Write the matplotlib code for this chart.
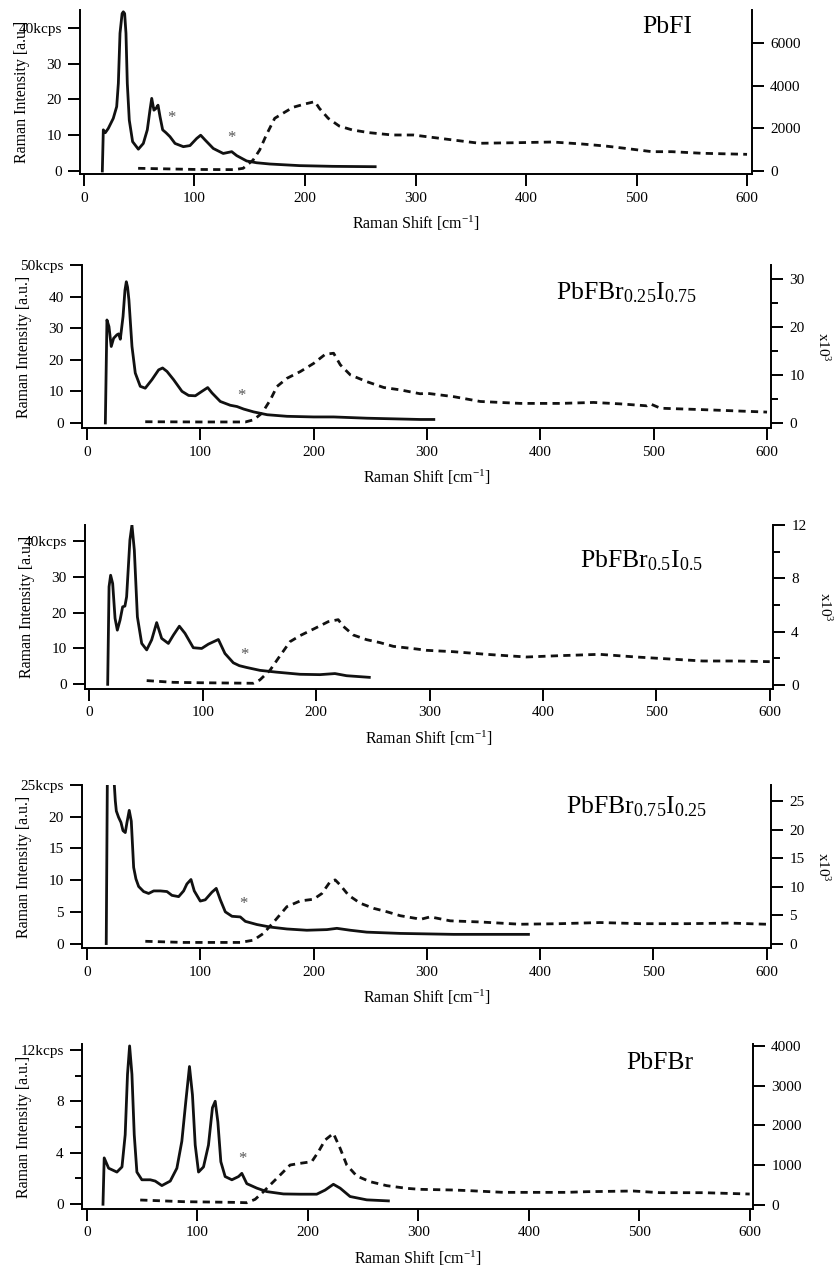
# Raman spectra of PbFBr(x)I(1-x): low-frequency spectrum (solid, left axis)
# and extended-range spectrum (dashed, right axis), five stacked panels
import matplotlib
matplotlib.use('Agg')
import matplotlib.pyplot as plt

plt.rcParams['font.family'] = 'Liberation Serif'
plt.rcParams['mathtext.fontset'] = 'custom'
plt.rcParams['mathtext.rm'] = 'Liberation Serif'
plt.rcParams['mathtext.it'] = 'Liberation Serif:italic'
plt.rcParams['mathtext.default'] = 'regular'

# ----------------------------------------------------------
# data
# ----------------------------------------------------------
names = ['PbFI', 'PbFBr$_{0.25}$I$_{0.75}$', 'PbFBr$_{0.5}$I$_{0.5}$',
         'PbFBr$_{0.75}$I$_{0.25}$', 'PbFBr']

# PbFI
p1_low_x = [16.6, 17.5, 19.3, 22, 26.5, 29.6, 31.1, 32.6, 34.5, 35.6, 36.8, 38, 39.2, 41, 44,
            49.2, 53.7, 57.3, 59.7, 61.3, 63.3, 65.2, 67, 68.8, 71.2, 74.2, 77.8, 82.4, 89.9,
            95.9, 102, 105.6, 109.5, 117, 126, 133.7, 138.2, 147.2, 156.3, 168.3, 195, 225, 263.5]
p1_low_y = [0, 11.5, 10.7, 11.9, 14.7, 18, 24.5, 38.5, 44, 44.5, 44, 38.5, 24.5, 14.2, 8.2,
            6.1, 7.7, 11.5, 17, 20.3, 17, 17.5, 18.4, 15.2, 11.5, 10.7, 9.6, 7.7, 6.8,
            7.1, 9.1, 10, 8.7, 6.3, 4.9, 5.4, 4.3, 2.8, 2.3, 1.95, 1.5, 1.3, 1.2]
p1_high_x = [49, 100, 136, 144, 153, 159, 165, 172.6, 180, 189, 200, 209, 213, 221, 231, 243,
             258, 279, 298, 334, 358, 394, 424, 451, 472, 490, 514, 532, 559, 600]
p1_high_y = [113, 60, 50, 113, 500, 975, 1680, 2465, 2700, 2980, 3140, 3250, 2935, 2465, 2100, 1915,
             1790, 1680, 1680, 1445, 1290, 1320, 1350, 1255, 1160, 1050, 895, 895, 820, 770]
p1_star_x = [79.4, 133.7]
p1_star_y = [14.7, 9.1]

# PbFBr0.25I0.75
p2_low_x = [16.2, 17.6, 19.4, 21.4, 23.5, 26.4, 27.9, 29.4, 31.8, 33.5, 34.7, 35.8, 37.0, 39.7,
            42.6, 47.0, 51.4, 57.3, 63.2, 66.7, 70.6, 76.4, 83.8, 89.7, 95.6, 101.4, 106.5,
            110.3, 117.6, 126.4, 132.3, 138.2, 147, 159, 176.5, 200, 217.6, 247, 294, 306]
p2_low_y = [0, 32.6, 30.5, 24.2, 26.8, 27.9, 28.2, 26.5, 33.7, 42, 44.7, 43, 38.9, 24.2,
            15.8, 11.6, 11.0, 13.7, 16.8, 17.4, 16.3, 13.7, 10.0, 8.7, 8.6, 10.0, 11.2,
            9.5, 6.8, 5.6, 5.2, 4.4, 3.5, 2.6, 2.1, 1.9, 1.9, 1.5, 1.1, 1.1]
p2_high_x = [51.4, 99.9, 139.7, 147, 154.4, 161.7, 167.6, 176.4, 188.2, 200, 210.3, 217.6, 223.5,
             232.4, 247, 261.8, 276.5, 294, 300, 323.5, 347, 382.4, 417.7, 447, 470.6, 494, 497,
             506, 544, 600]
p2_high_y = [0.3, 0.25, 0.25, 0.7, 2.07, 4.8, 7.6, 9.3, 10.7, 12.4, 14.3, 14.5, 12.1,
             10.0, 8.6, 7.4, 6.9, 6.1, 6.2, 5.5, 4.5, 4.1, 4.1, 4.3, 4.0, 3.6, 4.0,
             3.1, 2.8, 2.3]
p2_star_x = [136]
p2_star_y = [8.4]

# PbFBr0.5I0.5
p3_low_x = [16.2, 17.4, 18.8, 20.6, 22.7, 24.7, 27.1, 29.4, 31.4, 32.9, 35.8, 37.6, 39.7, 42.4,
            46.2, 50.6, 55, 59.4, 63.8, 69.7, 74.1, 79.4, 84.4, 91.7, 99.1, 105, 113.8, 119.6,
            127, 132.3, 138.7, 150.4, 165, 185.8, 203.3, 216.6, 226.9, 246.9]
p3_low_y = [0, 27.2, 30.4, 28.1, 18.4, 15.1, 17.9, 21.6, 21.8, 24.4, 40.2, 44.4, 37.4, 18.8,
            11.4, 9.6, 12.4, 17.2, 12.8, 11.4, 13.7, 16.2, 14.2, 10.2, 10.0, 11.2, 12.5, 8.6,
            6.0, 5.2, 4.7, 3.9, 3.4, 2.8, 2.7, 3.0, 2.4, 1.95]
p3_high_x = [50.6, 74.1, 97.6, 144.6, 150.4, 159.3, 166.6, 177, 185.8, 199, 210.7, 219.5, 224,
             232.8, 244.5, 256.3, 268, 288.6, 297.4, 320.8, 350.2, 385.4, 414.8, 450, 482.3,
             511.7, 541, 570.5, 600]
p3_high_y = [0.33, 0.2, 0.17, 0.13, 0.38, 1.1, 2.0, 3.25, 3.7, 4.25, 4.75, 4.9, 4.4,
             3.75, 3.4, 3.18, 2.9, 2.7, 2.6, 2.5, 2.3, 2.1, 2.2, 2.3, 2.1,
             1.95, 1.8, 1.8, 1.75]
p3_star_x = [136.6]
p3_star_y = [8.2]

# PbFBr0.75I0.25
p4_low_x = [17.0, 18.2, 19.5, 21.5, 24.1, 25, 25.9, 27.9, 30, 31.8, 33.8, 35.3, 37.3, 39.1, 41.2,
            43.2, 45.6, 50, 54.4, 58.9, 64.8, 70.6, 75, 80.9, 85.3, 88.2, 91.8, 94.7, 100,
            104.4, 110.3, 114.1, 117.7, 122.1, 128, 135.3, 139.8, 150, 161.8, 176.5, 194.1,
            211.8, 220.6, 232.4, 247, 276.5, 323.5, 389.7]
p4_low_y = [0, 32, 42, 38, 25.1, 22.5, 20.9, 19.9, 19.1, 17.8, 17.5, 19.1, 21.0, 19.3, 12.0,
            10.2, 9.0, 8.2, 7.9, 8.3, 8.3, 8.2, 7.6, 7.4, 8.3, 9.4, 10.1, 8.3, 6.7,
            6.9, 8.1, 8.7, 6.9, 5.0, 4.3, 4.2, 3.5, 3.0, 2.6, 2.3, 2.1,
            2.2, 2.4, 2.1, 1.8, 1.6, 1.45, 1.45]
p4_high_x = [51.5, 85.3, 135.3, 147, 155.9, 166.2, 176.5, 188.2, 200, 207.3, 214.7, 219.1, 223.5,
             230.9, 241.2, 253, 264.7, 276.5, 291.2, 294.2, 303, 320.6, 347, 382.4, 417.7, 453,
             488.3, 529.5, 567.8, 600]
p4_high_y = [0.4, 0.2, 0.2, 0.6, 1.8, 4.1, 6.5, 7.5, 7.8, 8.8, 10.9, 11.2, 10.3,
             8.5, 7.1, 6.2, 5.6, 4.9, 4.4, 4.25, 4.7, 4.0, 3.8, 3.4, 3.5, 3.7,
             3.5, 3.5, 3.6, 3.4]
p4_star_x = [138.3]
p4_star_y = [6.2]

# PbFBr
p5_low_x = [14.5, 15.6, 19.6, 27.1, 31.7, 34.6, 36.7, 38.6, 40.7, 42.8, 45.2, 49.7, 57.3, 61.8,
            67.8, 75.4, 81.4, 85.9, 89.5, 92.8, 95.5, 98, 101, 105.5, 110, 113.6, 116.1, 118.5,
            121.2, 125.1, 131.2, 137.2, 140.2, 144.7, 153.8, 162.9, 177.9, 193, 208, 215.6,
            223.1, 229.2, 238.2, 253.3, 272.9]
p5_low_y = [0, 3.6, 2.8, 2.5, 2.9, 5.4, 10.1, 12.3, 10.1, 5.4, 2.5, 1.9, 1.9, 1.8,
            1.45, 1.8, 2.8, 4.9, 8.0, 10.7, 8.5, 4.6, 2.5, 2.9, 4.6, 7.5, 8.0, 6.4,
            3.3, 2.15, 1.9, 2.15, 2.4, 1.6, 1.25, 0.98, 0.8, 0.78, 0.78, 1.1,
            1.55, 1.25, 0.6, 0.34, 0.26]
p5_high_x = [48.2, 87.4, 132.6, 144.7, 152.2, 159.8, 165.8, 174.9, 183.9, 193, 203.5, 209.6, 215.6,
             223.1, 229.2, 235.2, 244.2, 256.3, 271.4, 289.5, 301.5, 331.7, 346.8, 377, 407,
             434.3, 452.4, 494.6, 518.7, 558, 600]
p5_high_y = [126, 84, 67, 58, 142, 335, 503, 754, 1005, 1047, 1089, 1340, 1633,
             1800, 1424, 1005, 729, 586, 486, 419, 394, 377, 360, 318, 318,
             318, 335, 352, 310, 310, 276]
p5_star_x = [141.1]
p5_star_y = [3.5]

low_x = [p1_low_x, p2_low_x, p3_low_x, p4_low_x, p5_low_x]
low_y = [p1_low_y, p2_low_y, p3_low_y, p4_low_y, p5_low_y]
high_x = [p1_high_x, p2_high_x, p3_high_x, p4_high_x, p5_high_x]
high_y = [p1_high_y, p2_high_y, p3_high_y, p4_high_y, p5_high_y]
star_x = [p1_star_x, p2_star_x, p3_star_x, p4_star_x, p5_star_x]
star_y = [p1_star_y, p2_star_y, p3_star_y, p4_star_y, p5_star_y]

# left axis ticks (top one carries the kcps unit) and right axis ticks
left_major = [[0, 10, 20, 30, 40], [0, 10, 20, 30, 40, 50], [0, 10, 20, 30, 40],
              [0, 5, 10, 15, 20, 25], [0, 4, 8, 12]]
left_minor = [[], [], [], [], [2, 6, 10]]
right_major = [[0, 2000, 4000, 6000], [0, 10, 20, 30], [0, 4, 8, 12],
               [0, 5, 10, 15, 20, 25], [0, 1000, 2000, 3000, 4000]]
right_minor = [[], [5, 15, 25], [2, 6, 10], [], []]
right_unit = ['', 'x10$^{3}$', 'x10$^{3}$', 'x10$^{3}$', '']
x_ticks = [0, 100, 200, 300, 400, 500, 600]

# ----------------------------------------------------------
# layout (pixels: left, right, top, bottom of each frame)
# ----------------------------------------------------------
W, H = 840, 1273
frames = [(80, 752, 10, 174), (82, 771, 265, 428), (85, 773, 525, 689),
          (82, 771, 785, 948), (82, 753, 1044, 1209)]
xlims = [(-3.6, 604.5), (-4.4, 603.5), (-3.8, 602.9), (-4.4, 603.8), (-4.5, 603)]
ylims_l = [(-0.84, 45), (-1.6, 50), (-1.3, 44.4), (-0.7, 25), (-0.37, 12.45)]
ylims_r = [(-155, 7560), (-1.0, 32.8), (-0.3, 12.0), (-0.78, 27.9), (-100, 4045)]
title_pos = [(692, 33), (697, 299), (703, 567), (707, 813), (693, 1069)]

fig = plt.figure(figsize=(W / 100, H / 100), dpi=100)
lw_ax = 1.4
tick_kw = dict(direction='out', length=8.6, width=lw_ax, pad=4.5, labelsize=11)

for i in range(5):
	l, r, t, b = frames[i]
	ax = fig.add_axes([l / W, 1 - b / H, (r - l) / W, (b - t) / H])
	ax.patch.set_alpha(0)
	ax2 = ax.twinx()

	ax.plot(low_x[i], low_y[i], color='#111111', lw=2.0, solid_joinstyle='round')
	ax2.plot(high_x[i], high_y[i], color='#111111', lw=2.0, dashes=(2.6, 1.9))
	for sx, sy in zip(star_x[i], star_y[i]):
		ax.text(sx, sy, '*', ha='center', va='center', fontsize=12, color='#555555')

	ax.set_xlim(*xlims[i])
	ax.set_ylim(*ylims_l[i])
	ax2.set_ylim(*ylims_r[i])

	# igor-like frame: left, bottom and right lines only
	for s in ['top', 'right']:
		ax.spines[s].set_visible(False)
	for s in ['top', 'left', 'bottom']:
		ax2.spines[s].set_visible(False)
	ax.spines['left'].set_linewidth(lw_ax)
	ax.spines['bottom'].set_linewidth(lw_ax)
	ax2.spines['right'].set_linewidth(lw_ax)

	ax.set_xticks(x_ticks)
	ax.set_xticklabels([str(v) for v in x_ticks])
	labs = [str(v) for v in left_major[i]]
	labs[-1] = labs[-1] + 'kcps'
	ax.set_yticks(left_major[i])
	ax.set_yticklabels(labs)
	ax.set_yticks(left_minor[i], minor=True)
	ax2.set_yticks(right_major[i])
	ax2.set_yticklabels([str(v) for v in right_major[i]])
	ax2.set_yticks(right_minor[i], minor=True)
	ax.tick_params(which='major', **tick_kw)
	ax2.tick_params(which='major', **tick_kw)
	ax.tick_params(which='minor', direction='out', length=5, width=lw_ax)
	ax2.tick_params(which='minor', direction='out', length=5, width=lw_ax)
	ax.tick_params(axis='x', pad=4)

	wpx, hpx = r - l, b - t
	ax.set_ylabel('Raman Intensity [a.u.]', fontsize=11.5)
	ax.yaxis.set_label_coords(-50 / wpx, 0.5)
	ax.set_xlabel('Raman Shift [cm$^{-1}$]', fontsize=11.5)
	ax.xaxis.set_label_coords(0.5, -40 / hpx)
	if right_unit[i]:
		ax.text(1 + 52 / wpx, 0.5, right_unit[i], transform=ax.transAxes, rotation=270,
			ha='center', va='center', fontsize=11)

	tx, ty = title_pos[i]
	fig.text(tx / W, 1 - ty / H, names[i], ha='right', va='baseline', fontsize=18.5)

plt.savefig('out.png', dpi=100)
